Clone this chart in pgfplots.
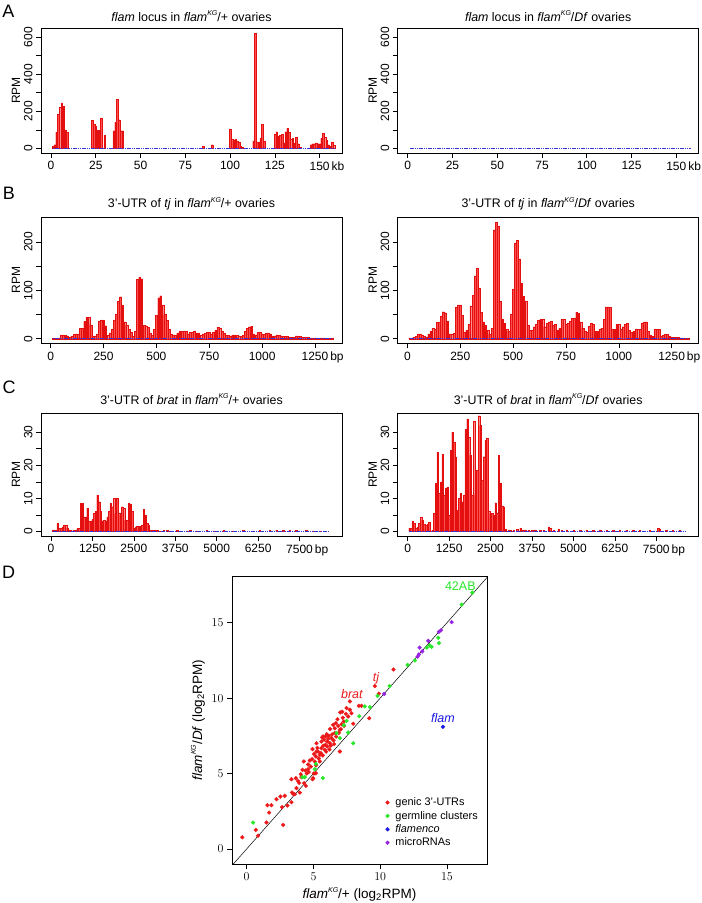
\documentclass[border=0pt]{standalone}
\usepackage{fontspec}
\setmainfont{Liberation Sans}
\usepackage{pgfplots}
\pgfplotsset{compat=1.18}
\newcommand{\fs}[1]{\fontsize{#1}{#1}\selectfont}
\newcommand{\KG}{\raisebox{0.45em}{\fs{7}\itshape KG}}
\definecolor{barfill}{RGB}{255,80,80}
\definecolor{baredge}{RGB}{228,15,15}
\definecolor{baseblue}{RGB}{50,50,215}
\definecolor{pred}{RGB}{235,25,25}
\definecolor{pgreen}{RGB}{40,230,40}
\definecolor{pblue}{RGB}{25,25,225}
\definecolor{ppurple}{RGB}{150,35,225}
\pgfplotsset{
  track/.style={
    scale only axis, width=301pt, anchor=south west,
    axis line style={line width=0.8pt},
    xtick pos=bottom, ytick pos=left, tick align=outside,
    major tick length=5pt,
    tick style={line width=0.6pt, black},
    xticklabel style={font=\fs{12}},
    yticklabel style={font=\fs{12}, rotate=90, anchor=south},
    ylabel={RPM}, ylabel style={font=\fs{12}, yshift=-3pt},
    title style={font=\fs{12.4}},
  },
  trA/.style={track, height=125pt, xmin=-5.6, xmax=162.5, ymin=-25, ymax=649,
    title style={yshift=-3pt},
    xtick={0,25,...,150}, xticklabels={0,25,50,75,100,125,150\rlap{\,kb}},
    ytick={0,100,...,600}, yticklabels={0,,200,,400,,600}},
  trB/.style={track, height=126.5pt, xmin=-46, xmax=1378, ymin=-9.7, ymax=251.5,
    title style={yshift=-3pt},
    xtick={0,250,...,1250}, xticklabels={0,250,500,750,1000,1250\rlap{\,bp}},
    ytick={0,50,...,200}, yticklabels={0,,100,,200}},
  trC/.style={track, height=123pt, xmin=-301, xmax=8780, ymin=-1.38, ymax=35.8,
    title style={yshift=-1pt},
    xtick={0,1250,...,7500}, xticklabels={0,1250,2500,3750,5000,6250,7500\rlap{\,bp}},
    ytick={0,5,...,30}, yticklabels={0,,10,,20,,30}},
  bars/.style={ybar, bar width=#1, fill=barfill, draw=baredge, line width=0.2pt},
  basel/.style={baseblue, line width=0.9pt, dash pattern=on 1.2pt off 0.6pt},
}
\begin{document}
\begin{tikzpicture}
\useasboundingbox (0pt,0pt) rectangle (702pt,903pt);
\node[font=\fs{18}] at (8.5pt,891.5pt) {A};
\node[font=\fs{18}] at (9pt,710pt) {B};
\node[font=\fs{18}] at (9pt,516pt) {C};
\node[font=\fs{18}] at (8.5pt,331pt) {D};

% ---------- A left
\begin{axis}[trA, at={(41pt,750pt)},
  title={\textit{flam} locus in \textit{flam}\KG/+ ovaries}]
\addplot[bars=1.5pt] coordinates {
(1,10)(2,20)(3,88)(4,185)(5,220)(6,245)(7,228)(8,100)(9,88)
(23,152)(24,130)(25,118)(26,100)(27,98)(28,165)(30,70)
(35,95)(36,140)(37,265)(38,155)(39,95)(40,95)
(85,10)(90,20)
(100,105)(101,50)(102,42)(103,48)(104,40)(105,35)(106,12)(107,5)
(113,40)(114,620)(115,35)(116,35)(117,55)(118,130)(119,40)
(125,75)(126,90)(127,65)(128,70)(129,75)(130,30)(131,90)(132,108)(133,85)(134,50)(135,55)(136,30)(137,60)(138,25)(139,5)
(145,20)(146,25)(147,25)(148,30)(149,25)(150,25)(151,55)(152,80)(153,60)(154,45)(155,20)(156,12)(157,35)(158,15)
};
\addplot[basel] coordinates {(1,0) (158,0)};
\end{axis}
% ---------- A right
\begin{axis}[trA, at={(397.7pt,750pt)},
  title={\textit{flam} locus in \textit{flam}\KG/\textit{Df} ovaries}]
\addplot[basel] coordinates {(1,0) (158,0)};
\end{axis}

% ---------- B left
\begin{axis}[trB, at={(41pt,559.5pt)},
  title={3'-UTR of \textit{tj} in \textit{flam}\KG/+ ovaries}]
\addplot[bars=1.8pt] coordinates {
(10,1)(20,1)(30,1)(40,2)(50,8)(60,8)(70,7)(80,6)(90,4)(100,6)(110,9)(120,10)(130,10)(140,22)(150,22)(160,36)(170,45)(180,44)(190,29)(200,6)
(210,6)(220,10)(230,37)(240,39)(250,38)(260,27)(270,8)(280,12)(290,20)(300,38)(310,50)(320,78)(330,87)(340,70)(350,35)(360,28)(370,20)(380,14)(390,5)(400,15)
(410,123)(420,128)(430,124)(440,28)(450,27)(460,24)(470,12)(480,7)(490,20)(500,48)(510,85)(520,89)(530,70)(540,50)(550,38)(560,20)(570,10)(580,8)(590,8)(600,12)
(610,15)(620,16)(630,16)(640,16)(650,10)(660,14)(670,14)(680,15)(690,12)(700,12)(710,8)(720,10)(730,11)(740,13)(750,13)(760,10)(770,14)(780,18)(790,24)(800,22)
(810,15)(820,12)(830,8)(840,7)(850,6)(860,8)(870,8)(880,7)(890,5)(900,5)(910,7)(920,15)(930,22)(940,25)(950,26)(960,10)(970,8)(980,13)(990,13)(1000,10)
(1010,9)(1020,12)(1030,12)(1040,10)(1050,6)(1060,6)(1070,8)(1080,7)(1090,6)(1100,5)(1110,5)(1120,5)(1130,4)(1140,3)(1150,3)(1160,6)(1170,6)(1180,5)(1190,3)(1200,3)
(1210,3)(1220,3)(1230,2)(1240,2)(1250,2)(1260,2)(1270,1)(1280,2)(1290,2)(1300,1)(1310,1)(1320,1)(1330,1)
};
\addplot[basel] coordinates {(10,0) (1330,0)};
\end{axis}
% ---------- B right
\begin{axis}[trB, at={(397.7pt,559.5pt)},
  title={3'-UTR of \textit{tj} in \textit{flam}\KG/\textit{Df} ovaries}]
\addplot[bars=1.8pt] coordinates {
(10,2)(20,2)(30,3)(40,5)(50,10)(60,10)(70,8)(80,6)(90,4)(100,10)(110,16)(120,22)(130,20)(140,34)(150,34)(160,46)(170,56)(180,54)(190,36)(200,10)
(210,10)(220,12)(230,65)(240,70)(250,70)(260,48)(270,14)(280,18)(290,30)(300,68)(310,90)(320,130)(330,146)(340,105)(350,55)(360,35)(370,28)(380,18)(390,10)(400,22)
(410,225)(420,240)(430,232)(440,78)(450,40)(460,32)(470,20)(480,15)(490,50)(500,102)(510,198)(520,203)(530,165)(540,115)(550,88)(560,78)(570,28)(580,18)(590,18)(600,25)
(610,30)(620,38)(630,40)(640,40)(650,25)(660,32)(670,35)(680,36)(690,28)(700,30)(710,18)(720,22)(730,40)(740,40)(750,30)(760,32)(770,36)(780,42)(790,43)(800,55)
(810,53)(820,35)(830,22)(840,15)(850,13)(860,26)(870,32)(880,30)(890,15)(900,16)(910,20)(920,22)(930,40)(940,66)(950,66)(960,65)(970,20)(980,20)(990,30)(1000,30)
(1010,20)(1020,25)(1030,30)(1040,32)(1050,18)(1060,13)(1070,15)(1080,20)(1090,20)(1100,20)(1110,33)(1120,35)(1130,35)(1140,16)(1150,8)(1160,5)(1170,20)(1180,20)(1190,20)(1200,6)
(1210,8)(1220,9)(1230,9)(1240,6)(1250,4)(1260,3)(1270,3)(1280,3)(1290,2)(1300,2)(1310,1)(1320,1)(1330,1)
};
\addplot[basel] coordinates {(10,0) (1330,0)};
\end{axis}

% ---------- C left
\begin{axis}[trC, at={(41pt,367pt)},
  title={3'-UTR of \textit{brat} in \textit{flam}\KG/+ ovaries}]
\addplot[bars=1.45pt] coordinates {
(50,0.3)(100,0.5)(150,0.3)(200,2.4)(250,1.0)(300,1.0)(350,1.4)(400,2.0)(450,1.8)(500,1.0)(550,0.5)(600,0.3)(650,0.2)(700,0.3)(750,0.5)(800,1.0)(850,1.0)
(900,8.5)(950,8.5)(1000,4.4)(1050,4.4)(1100,7.0)(1150,3.0)(1200,3.1)(1250,3.6)(1300,5.4)(1350,6.0)(1400,11.0)(1450,9.0)(1500,6.0)(1550,3.2)(1600,3.5)(1650,3.0)
(1700,4.4)(1750,6.0)(1800,8.5)(1850,7.5)(1900,10.0)(1950,5.4)(2000,10.0)(2050,5.4)(2100,5.0)(2150,7.5)(2200,7.0)(2250,3.4)(2300,3.4)(2350,8.5)(2400,8.3)(2450,6.0)
(2500,1.0)(2550,1.4)(2600,1.6)(2650,1.6)(2700,1.6)(2750,2.0)(2800,6.6)(2850,5.0)(2900,2.4)(2950,2.0)(3000,0.5)(3050,0.4)(3100,0.3)(3150,0.3)(3200,0.4)(3300,0.2)
(3400,0.3)(3500,0.4)(3600,0.2)(3800,0.3)(4100,0.2)(4200,0.4)(4400,0.2)(4700,0.3)(4900,0.2)(5200,0.3)(5500,0.2)(5800,0.3)(6100,0.2)(6300,0.3)(6600,0.3)(6800,0.4)
(7000,0.3)(7200,0.4)(7400,0.4)(7700,0.3)(7900,0.2)(8100,0.2)
};
\addplot[basel] coordinates {(50,0) (8400,0)};
\end{axis}
% ---------- C right
\begin{axis}[trC, at={(397.7pt,367pt)},
  title={3'-UTR of \textit{brat} in \textit{flam}\KG/\textit{Df} ovaries}]
\addplot[bars=1.45pt] coordinates {
(50,0.9)(100,0.9)(150,3.2)(200,2.4)(250,0.9)(300,1.4)(350,2.4)(400,4.2)(450,3.4)(500,2.2)(550,1.9)(600,2.2)(650,2.8)(700,0.2)(750,0.3)
(800,5.4)(850,14.5)(900,24)(950,11.5)(1000,15)(1050,23.3)(1100,11)(1150,13)(1200,13.5)(1250,4.9)(1300,24.6)(1350,30)(1400,27)(1450,22.4)(1500,6.4)(1550,10)
(1600,11.5)(1650,9)(1700,11)(1750,30.8)(1800,34)(1850,28.4)(1900,23)(1950,11)(2000,33.3)(2050,11)(2100,18.5)(2150,35)(2200,32)(2250,15.5)(2300,22.6)(2350,27.6)
(2400,28.3)(2450,6)(2500,5.4)(2550,5.4)(2600,4.9)(2650,8.7)(2700,5.4)(2750,23)(2800,14.5)(2850,7.8)(2900,7.5)(2950,0.6)
(3050,0.5)(3100,0.4)(3200,0.4)(3300,0.6)(3400,0.9)(3450,0.5)(3500,0.4)(3550,0.5)(3650,0.4)(3750,0.4)(3850,0.5)(4000,0.3)(4100,0.4)(4250,1.4)(4300,1.0)(4400,0.3)
(4550,0.8)(4650,0.4)(4800,0.5)(5000,0.3)(5200,0.4)(5400,0.5)(5600,0.4)(5800,0.5)(6000,0.3)(6200,0.4)(6400,0.3)(6600,0.3)(6800,0.4)(7000,0.3)(7300,0.3)(7550,1.0)
(7600,0.8)(7800,0.4)(8000,0.3)(8200,0.3)
};
\addplot[basel] coordinates {(50,0) (8400,0)};
\end{axis}

% ---------- D scatter
\begin{axis}[at={(232pt,39pt)}, anchor=south west, scale only axis,
  width=255pt, height=288pt,
  xmin=-1.1, xmax=18, ymin=-1, ymax=18.1,
  axis line style={line width=0.8pt},
  xtick={0,5,10,15}, ytick={0,5,10,15},
  xtick pos=bottom, ytick pos=left, tick align=outside,
  major tick length=5pt, tick style={line width=0.6pt, black},
  ticklabel style={font=\fs{12}},
  xlabel={\textit{flam}\KG/+ (log\textsubscript{2}RPM)},
  ylabel={\textit{flam}\KG/\textit{Df} (log\textsubscript{2}RPM)},
  label style={font=\fs{13.5}},
  legend style={draw=none, fill=none, at={(rel axis cs:0.59,0.245)}, anchor=north west,
    font=\fs{10.9}, row sep=-0.4pt, nodes={inner ysep=2.2pt}},
  legend cell align=left,
  legend image code/.code={\draw[#1] plot coordinates {(0pt,0pt)};},
  /tikz/every odd column/.append style={column sep=4pt},
]
\addplot[black, line width=0.5pt, forget plot] coordinates {(-1.5,-1.5) (18.5,18.5)};
\addplot[only marks, mark=*, mark size=1.9pt, pred, mark options={draw=pred, fill=pred}] coordinates {
(-0.33,0.77)(0.68,1.26)(0.85,0.88)(1.48,1.75)(2.73,1.59)(1.68,2.41)(1.55,2.9)(1.85,2.9)(2.23,3.3)(2.53,3.47)
(2.85,3.52)(2.65,2.77)(3.05,2.88)(3.35,3.1)(3.48,3.65)(3.4,3.74)(3.6,3.63)(3.35,4.62)(3.68,4.69)(4.1,4.76)
(3.93,4.38)(4.3,4.36)(3.73,4.03)(4.43,4.18)(3.98,3.74)(4.93,4.62)(5.03,5.0)(4.18,5.24)(4.4,5.2)(4.6,5.29)
(4.8,5.46)(4.28,5.8)(4.73,5.86)(5.1,5.8)(5.18,6.13)(5.48,6.24)(5.6,6.68)(5.73,6.84)(5.85,6.57)(6.03,6.79)
(5.23,6.46)(4.93,6.62)(5.23,7.01)(5.6,7.12)(5.73,7.46)(5.93,7.46)(6.03,7.12)(6.23,7.01)(6.35,7.35)(6.98,6.46)
(6.6,7.68)(6.98,7.9)(6.68,8.34)(6.85,8.16)(7.1,8.27)(7.28,8.45)(7.43,8.96)(7.6,8.78)(7.85,9.0)(7.48,9.34)
(7.73,9.23)(7.98,8.3)(9.18,8.67)(7.3,8.16)(7.73,9.78)(8.4,9.49)(8.6,9.49)(6.6,8.0)(6.48,8.23)
(5.4,6.0)(5.55,6.35)(5.7,6.2)(5.9,6.9)(6.1,7.3)(6.2,6.6)(6.4,7.6)(6.5,7.2)(5.8,7.25)(6.0,7.6)
(5.95,6.45)(6.3,6.85)(6.15,7.5)(6.7,7.45)(6.55,6.95)(5.3,6.7)(5.05,6.3)(5.65,7.4)(6.9,7.7)(7.05,7.95)
(4.6,5.6)(4.9,5.95)(5.2,5.55)(4.5,5.0)(4.05,4.95)(3.85,4.5)(4.65,5.1)(5.35,6.45)(6.25,7.95)(6.8,8.6)
(7.2,8.7)(7.15,9.1)(7.0,9.05)(4.98,4.69)(5.18,5.02)(5.48,5.8)(11.0,11.9)(9.6,10.8)(9.9,10.3)
};
\addlegendentry{genic 3'-UTRs}
\addplot[only marks, mark=*, mark size=1.9pt, pgreen, mark options={draw=pgreen, fill=pgreen}] coordinates {
(0.48,1.75)(4.18,4.76)(4.35,4.76)(5.18,5.64)(5.1,5.29)(5.7,4.7)(6.73,7.68)(6.98,7.35)(7.6,7.72)(7.98,7.01)
(7.28,8.2)(7.48,8.49)(8.43,8.8)(8.85,9.45)(9.23,9.4)(9.8,10.15)(10.7,10.8)(12.05,12.2)(12.6,12.5)(13.5,13.35)
(13.7,13.5)(13.85,13.4)(14.35,14.0)(14.4,13.65)(16.1,16.2)(16.9,17.0)
};
\addlegendentry{germline clusters}
\addplot[only marks, mark=*, mark size=1.9pt, pblue, mark options={draw=pblue, fill=pblue}] coordinates {
(14.7,8.1)
};
\addlegendentry{\textit{flamenco}}
\addplot[only marks, mark=*, mark size=1.9pt, ppurple, mark options={draw=ppurple, fill=ppurple}] coordinates {
(10.3,10.28)(12.8,12.75)(12.9,12.9)(13.15,13.1)(12.95,13.35)(13.6,13.8)(14.4,14.4)(14.55,14.5)(15.35,15.04)
};
\addlegendentry{microRNAs}
\node[text=pgreen, font=\fs{12.5}] at (axis cs:16.0,17.4) {42AB};
\node[text=pred, font=\fs{12.5}\itshape] at (axis cs:9.68,11.35) {tj};
\node[text=pred, font=\fs{12.5}\itshape] at (axis cs:7.88,10.29) {brat};
\node[text=pblue, font=\fs{12.5}\itshape] at (axis cs:14.7,8.69) {flam};
\end{axis}
\end{tikzpicture}
\end{document}
